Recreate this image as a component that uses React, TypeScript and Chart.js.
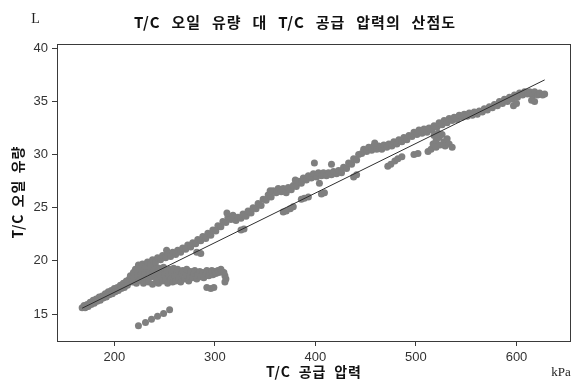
import { useEffect, useRef } from 'react';
import { Chart, registerables } from 'chart.js';

Chart.register(...registerables);

const titleText = 'T/C 오일 유량 대 T/C 공급 압력의 산점도';
const xTitleText = 'T/C 공급 압력';
const yTitleText = 'T/C 오일 유량';
const xUnitText = 'kPa';
const yUnitText = 'L';

const xTicks = [200, 300, 400, 500, 600];
const yTicks = [15, 20, 25, 30, 35, 40];

const fitIntercept = 7.7;
const fitSlope = 0.0467;

const lowerBand: [number, number][] = [
  [168, 15.6], [170, 15.8], [171, 15.6], [173, 15.9], [174, 15.7], [176, 16.1], [177, 15.9], [179, 16.3],
  [180, 16.0], [182, 16.4], [183, 16.2], [185, 16.6], [186, 16.3], [188, 16.7], [189, 16.5], [191, 16.9],
  [192, 16.6], [194, 17.1], [195, 16.8], [197, 17.2], [198, 16.9], [200, 17.4], [201, 17.1], [203, 17.5],
  [204, 17.2], [206, 17.7], [207, 17.4], [209, 17.9], [210, 17.5], [212, 18.1], [213, 17.7], [215, 18.3],
];

const denseCluster: [number, number][] = [
  [216, 18.6], [218, 18.0], [219, 18.9], [220, 18.4], [221, 19.2], [222, 17.9], [223, 18.7], [224, 19.4],
  [225, 18.2], [226, 19.0], [227, 18.5], [228, 19.6], [229, 17.9], [230, 18.8], [231, 19.3], [232, 18.3],
  [233, 19.7], [234, 18.0], [235, 18.9], [236, 19.4], [237, 18.5], [238, 17.8], [239, 19.1], [240, 18.6],
  [241, 19.5], [242, 18.2], [243, 18.9], [244, 17.9], [245, 19.3], [246, 18.5], [247, 19.0], [248, 18.1],
  [249, 19.4], [250, 18.7], [251, 18.3], [252, 19.1], [253, 17.9], [254, 18.6], [255, 19.2], [256, 18.3],
  [257, 18.9], [258, 18.0], [259, 19.3], [260, 18.6],
];

const branch: [number, number][] = [
  [261, 18.1], [262, 18.9], [263, 19.2], [264, 18.4], [266, 18.0], [267, 18.8], [268, 19.1], [270, 18.3],
  [271, 18.7], [272, 19.2], [274, 18.1], [275, 18.6], [276, 19.0], [278, 18.4], [279, 18.8], [280, 19.1],
  [282, 18.3], [283, 18.7], [285, 19.0], [286, 18.5], [288, 18.9], [289, 18.4], [291, 18.8], [292, 19.1],
  [294, 18.6], [295, 18.9], [297, 19.1], [298, 18.7], [300, 19.0], [301, 18.8], [303, 19.1], [304, 18.9],
  [306, 19.2], [307, 19.0], [309, 18.9], [310, 18.6], [311, 18.3], [310, 18.0],
];

const isolatedPair: [number, number][] = [
  [292, 17.5], [296, 17.4], [299, 17.5],
];

const lowRun: [number, number][] = [
  [224, 13.9], [231, 14.2], [237, 14.5], [243, 14.8], [249, 15.05], [255, 15.4],
];

const upperBand: [number, number][] = [
  [222, 19.2], [224, 19.6], [226, 19.3], [228, 19.7], [231, 19.5], [233, 19.9], [236, 19.7], [238, 20.1],
  [241, 19.9], [243, 20.3], [246, 20.1], [248, 20.5], [251, 20.3], [253, 20.6], [256, 20.4], [258, 20.8],
  [261, 20.6], [263, 21.0], [266, 20.8], [268, 21.2], [271, 21.1], [273, 21.5], [276, 21.3], [278, 21.7],
  [281, 21.6], [283, 22.0], [286, 21.9], [288, 22.3], [291, 22.1], [293, 22.6], [296, 22.4], [298, 22.9],
  [301, 22.8], [303, 23.3], [306, 23.2], [308, 23.7], [311, 23.6], [313, 24.1], [316, 23.9], [318, 24.3],
  [321, 23.8], [323, 24.1], [326, 24.0], [328, 24.4], [331, 24.2], [333, 24.7], [336, 24.5], [338, 25.0],
  [341, 24.9], [343, 25.4], [346, 25.2], [348, 25.8], [351, 25.7], [353, 26.2], [356, 26.0], [358, 26.6],
  [361, 26.4], [363, 26.8], [366, 26.5], [368, 26.8], [371, 26.4], [373, 26.9], [376, 26.7], [378, 27.1],
  [381, 27.0], [383, 27.5], [386, 27.3], [388, 27.8], [391, 27.6], [393, 28.0], [396, 27.8], [398, 28.2],
  [401, 27.9], [403, 28.3], [406, 28.0], [408, 28.3], [411, 28.0], [413, 28.3], [416, 28.1], [418, 28.4],
  [421, 28.2], [423, 28.5], [426, 28.3], [428, 28.8], [431, 28.7], [433, 29.2], [436, 29.1], [438, 29.6],
  [441, 29.5], [443, 30.0], [446, 30.1], [448, 30.5], [451, 30.3], [453, 30.7], [456, 30.4], [458, 30.8],
  [461, 30.5], [463, 30.8], [466, 30.5], [468, 30.9], [471, 30.7], [473, 31.0], [476, 30.8], [478, 31.2],
  [481, 31.0], [483, 31.4], [486, 31.2], [488, 31.6], [491, 31.4], [493, 31.8], [496, 31.7], [498, 32.1],
  [501, 31.9], [503, 32.3], [506, 32.0], [508, 32.4], [511, 32.1], [513, 32.5], [516, 32.3], [518, 32.7],
  [521, 32.6], [523, 33.0], [526, 32.8], [528, 33.2], [531, 33.0], [533, 33.4], [536, 33.2], [538, 33.5],
  [541, 33.3], [543, 33.7], [546, 33.5], [548, 33.8], [551, 33.6], [553, 33.9], [556, 33.7], [558, 34.0],
  [561, 33.8], [563, 34.1], [566, 34.0], [568, 34.3], [571, 34.2], [573, 34.5], [576, 34.4], [578, 34.7],
  [581, 34.6], [583, 35.0], [586, 34.8], [588, 35.2], [591, 35.0], [593, 35.4], [596, 35.2], [598, 35.6],
  [601, 35.4], [603, 35.8], [606, 35.6], [608, 35.9], [611, 35.7], [613, 35.9], [616, 35.6], [618, 35.9],
  [621, 35.6], [623, 35.8], [626, 35.6], [628, 35.7],
  [597, 34.6], [600, 34.8], [615, 35.1], [618, 35.0],
  [399, 29.2], [416, 29.1], [252, 21.0], [312, 24.5], [355, 26.6], [380, 27.6], [459, 31.1],
];

const subBand: [number, number][] = [
  [282, 20.8], [286, 20.7], [326, 22.9], [329, 23.0], [368, 24.6], [371, 24.7], [375, 24.9], [378, 25.1],
  [386, 25.8], [389, 25.9], [393, 26.0], [406, 26.3], [409, 26.4], [404, 27.3], [438, 27.9], [441, 28.1],
  [472, 28.9], [475, 29.1], [479, 29.4], [482, 29.6], [486, 29.8], [498, 30.0], [502, 30.1], [512, 30.3],
  [515, 30.5], [517, 31.0], [520, 31.3], [523, 31.6], [526, 31.9], [520, 30.7], [524, 30.9], [528, 31.2],
  [531, 31.5], [529, 30.8], [533, 31.0], [536, 30.7], [522, 32.0], [518, 31.8],
];

const allPoints = [
  ...lowerBand, ...denseCluster, ...branch, ...isolatedPair, ...lowRun, ...upperBand, ...subBand,
];

const axisColor = '#3a3a3a';
const dotColor = '#7f7f7f';

function fitText(ctx: CanvasRenderingContext2D, text: string, cx: number, cy: number, width: number, font: string, letter: number) {
  const c = ctx as any;
  ctx.font = font;
  c.letterSpacing = letter + 'px';
  c.wordSpacing = '0px';
  const w0 = ctx.measureText(text).width - letter;
  const spaces = text.split(' ').length - 1;
  if (spaces > 0) c.wordSpacing = (width - w0) / spaces + 'px';
  ctx.textAlign = 'left';
  ctx.textBaseline = 'middle';
  ctx.fillText(text, cx - width / 2, cy);
  c.wordSpacing = '0px';
  c.letterSpacing = '0px';
}

const decor = {
  id: 'decor',
  afterDraw(chart: any) {
    const { ctx, chartArea: a } = chart;
    ctx.save();
    ctx.strokeStyle = axisColor;
    ctx.lineWidth = 1;
    ctx.strokeRect(Math.round(a.left) + 0.5, Math.round(a.top) + 0.5, Math.round(a.right - a.left) - 1, Math.round(a.bottom - a.top) - 1);

    ctx.fillStyle = '#111';
    fitText(ctx, titleText, 294.5, 22.5, 321, "bold 15px 'Noto Sans CJK KR'", 1);
    fitText(ctx, xTitleText, 313.5, 372, 95, "bold 14px 'Noto Sans CJK KR'", 1);
    ctx.save();
    ctx.translate(17.5, 192.5);
    ctx.rotate(-Math.PI / 2);
    fitText(ctx, yTitleText, 0, 0, 92, "bold 14px 'Noto Sans CJK KR'", 1);
    ctx.restore();

    ctx.fillStyle = '#222';
    ctx.font = "14px 'Liberation Serif'";
    ctx.textAlign = 'center';
    ctx.textBaseline = 'middle';
    ctx.fillText(yUnitText, 35.5, 19.5);
    ctx.font = "13px 'Liberation Serif'";
    ctx.fillText(xUnitText, 561, 373);
    ctx.restore();
  },
};

export default function App() {
  const ref = useRef<HTMLCanvasElement>(null);
  useEffect(() => {
    const xs = allPoints.map((p) => p[0]);
    const xMin = Math.min(...xs);
    const xMax = Math.max(...xs);
    const chart = new Chart(ref.current as HTMLCanvasElement, {
      type: 'scatter',
      data: {
        datasets: [
          {
            label: 'fit',
            data: [
              { x: xMin, y: fitIntercept + fitSlope * xMin },
              { x: xMax, y: fitIntercept + fitSlope * xMax },
            ],
            showLine: true,
            borderColor: '#2e2e2e',
            borderWidth: 1,
            pointRadius: 0,
            order: 0,
          } as any,
          {
            label: 'data',
            data: allPoints.map(([x, y]) => ({ x, y })),
            backgroundColor: dotColor,
            borderWidth: 0,
            pointRadius: 3.5,
            order: 1,
          },
        ],
      },
      options: {
        responsive: false,
        animation: false,
        events: [],
        layout: { padding: { top: 43.5, right: 4, left: 0, bottom: 0 } },
        plugins: { legend: { display: false }, tooltip: { enabled: false }, title: { display: false } },
        scales: {
          x: {
            type: 'linear',
            min: 143,
            max: 654.2,
            afterBuildTicks: (scale: any) => {
              scale.ticks = xTicks.map((v) => ({ value: v }));
            },
            afterFit: (scale: any) => {
              scale.height = 42;
            },
            grid: { drawOnChartArea: false, drawTicks: true, tickLength: 5, color: axisColor },
            border: { display: false },
            ticks: { color: '#333', padding: 4, font: { family: 'Liberation Sans', size: 13 }, maxRotation: 0 },
          },
          y: {
            type: 'linear',
            min: 12.46,
            max: 40.45,
            afterBuildTicks: (scale: any) => {
              scale.ticks = yTicks.map((v) => ({ value: v }));
            },
            afterFit: (scale: any) => {
              scale.width = 57;
            },
            grid: { drawOnChartArea: false, drawTicks: true, tickLength: 5, color: axisColor },
            border: { display: false },
            ticks: { color: '#333', padding: 4, font: { family: 'Liberation Sans', size: 13 } },
          },
        },
      },
      plugins: [decor],
    });
    return () => chart.destroy();
  }, []);
  return (
    <div style={{ position: 'absolute', left: 0, top: 0, width: 575, height: 383 }}>
      <canvas ref={ref} width={575} height={383} style={{ display: 'block' }} />
    </div>
  );
}
